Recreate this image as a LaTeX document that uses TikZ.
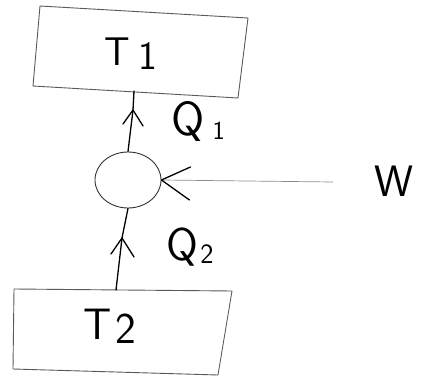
\documentclass[tikz,border=0pt]{standalone}
\usetikzlibrary{arrows.meta,shapes.geometric}
\begin{document}
\begin{tikzpicture}[x=1pt,y=-1pt,
  boxline/.style={draw=black!65, line width=0.9pt, line join=round},
  flow/.style={draw=black, line width=1.3pt, line cap=round, line join=round},
  lbl/.style={font=\sffamily\fontsize{42}{46}\selectfont, inner sep=0pt}]
\useasboundingbox (0,0) rectangle (421,377);
% top reservoir T1
\draw[boxline] (40,6) -- (248,18) -- (238,98) -- (33,86) -- cycle;
\node[lbl, font=\sffamily\fontsize{40}{44}\selectfont] (T1) at (131,54) {T\kern8pt\raisebox{-4pt}{1}};
% bottom reservoir T2
\draw[boxline] (14,289) -- (232,291) -- (218,375) -- (13,369) -- cycle;
\node[lbl, font=\sffamily\fontsize{44}{48}\selectfont] (T2) at (110,326) {T\kern4pt\raisebox{-4pt}{2}};
% engine
\node[ellipse, draw=black!80, line width=0.9pt, minimum width=66pt, minimum height=56pt, inner sep=0pt] (C) at (128,180) {};
\coordinate (t1b) at (134,91);
\coordinate (m1) at (133,110);
\coordinate (t2t) at (116,290);
\coordinate (m2) at (122,238);
% heat flows
\draw[flow] (C.north) -- (m1) -- (t1b);
\draw[flow] (m1) ++(-10,14) -- (m1) -- ++(10,16);
\draw[flow] (t2t) -- (m2) -- (C.south);
\draw[flow] (m2) ++(-11,16) -- (m2) -- ++(12,19);
% work
\node[lbl, font=\sffamily\fontsize{44}{48}\selectfont] (W) at (394,181) {W};
\coordinate (wend) at (333,182);
\draw[draw=black!45, line width=0.7pt] (wend) -- (C.east);
\draw[flow] (C.east) ++(29,-13) -- (C.east) -- ++(28,20);
% labels
\node[lbl, font=\sffamily\fontsize{48}{52}\selectfont] (Q1) at (198,121) {Q\kern8pt\raisebox{-4pt}{\fontsize{26}{28}\selectfont 1}};
\node[lbl, font=\sffamily\fontsize{46}{50}\selectfont] (Q2) at (190,247) {Q\kern2pt\raisebox{-3pt}{\fontsize{28}{30}\selectfont 2}};
\end{tikzpicture}
\end{document}
